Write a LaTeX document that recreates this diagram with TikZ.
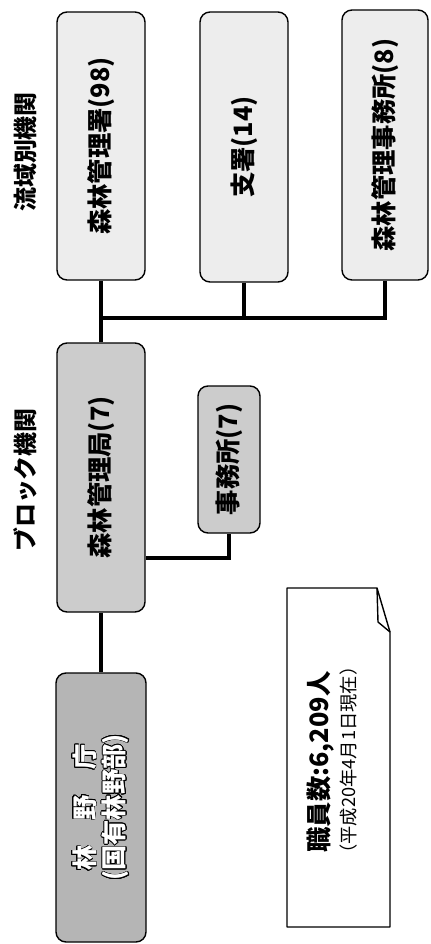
\documentclass[tikz,border=0pt]{standalone}
\usepackage{fontspec}
\usepackage{contour}
\newfontfamily\jp{Noto Sans CJK JP}
\contourlength{0.5pt}
\def\px{0.025cm}
\tikzset{
  unitbox/.style={draw, line width=1pt, rounded corners=0.25cm, rotate=90,
    inner sep=0pt, align=center, font=\jp\bfseries\fontsize{18}{21}\selectfont},
  fieldbox/.style={unitbox, fill=gray!14},
  blockbox/.style={unitbox, fill=gray!40},
  agencybox/.style={unitbox, fill=gray!58, text=white},
  conn/.style={line width=2.4pt},
  tier/.style={rotate=90, inner sep=0pt, font=\jp\bfseries\fontsize{17}{19}\selectfont},
}
\begin{document}
\begin{tikzpicture}[x=\px, y=-\px]
            \useasboundingbox (0,0) rectangle (430,944);%
            % rotated boxes: page south = .west, page north = .east, page east = .south

            % Marking tier labels
            \node [tier] (fieldlbl) at (25,152) {流域別機関};%
            \node [tier] (blocklbl) at (25,480) {ブロック機関};%

            % Drawing field offices
            \node [fieldbox, minimum width=268*\px, minimum height=88*\px] (A) at (101,146) {森林管理署(98)};%
            \node [fieldbox, minimum width=270*\px, minimum height=88*\px] (B) at (244,147) {支署(14)};%
            \node [fieldbox, minimum width=270*\px, minimum height=86*\px] (C) at (385,145) {森林管理事務所(8)};%

            % Drawing block offices
            \node [blockbox, minimum width=269*\px, minimum height=88*\px] (D) at (101,477.5) {森林管理局(7)};%
            \node [blockbox, minimum width=147*\px, minimum height=62*\px] (E) at (229,459.5) {事務所(7)};%

            % Drawing agency
            \node [agencybox, minimum width=269*\px, minimum height=90*\px] (F) at (101,807.5)
              {\contour{black}{林　野　庁}\\\contour{black}{(国有林野部)}};%

            % Drawing bus D A B C
            \coordinate (bus) at (0,318);%
            \draw [conn] (A.west) -- (A.west |- bus) -- (C.west |- bus) -- (C.west);%
            \draw [conn] (B.west) -- (B.west |- bus);%
            \draw [conn] (D.east) -- (A.west);%

            % Drawing segment D E
            \coordinate (ejoin) at (0,558);%
            \draw [conn] (D.south |- ejoin) -| (E.west);%

            % Drawing segment D F
            \draw [conn] (D.west) -- (F.east);%

            % Drawing note with folded corner
            \draw [line width=1pt, fill=white, line join=round]
              (287,588) -- (377,588) -- (390,632) -- (390,927) -- (287,927) -- cycle;%
            \draw [line width=1pt, line join=round] (377,588) -- (378,622) -- (390,632);%
            \node [rotate=90, inner sep=0pt, font=\jp\bfseries\fontsize{18}{20}\selectfont] (staff) at (321,762) {職員数:6,209人};%
            \node [rotate=90, inner sep=0pt, font=\jp\fontsize{13}{15}\selectfont] (date) at (349,760) {（平成20年4月1日現在）};%
\end{tikzpicture}
\end{document}
